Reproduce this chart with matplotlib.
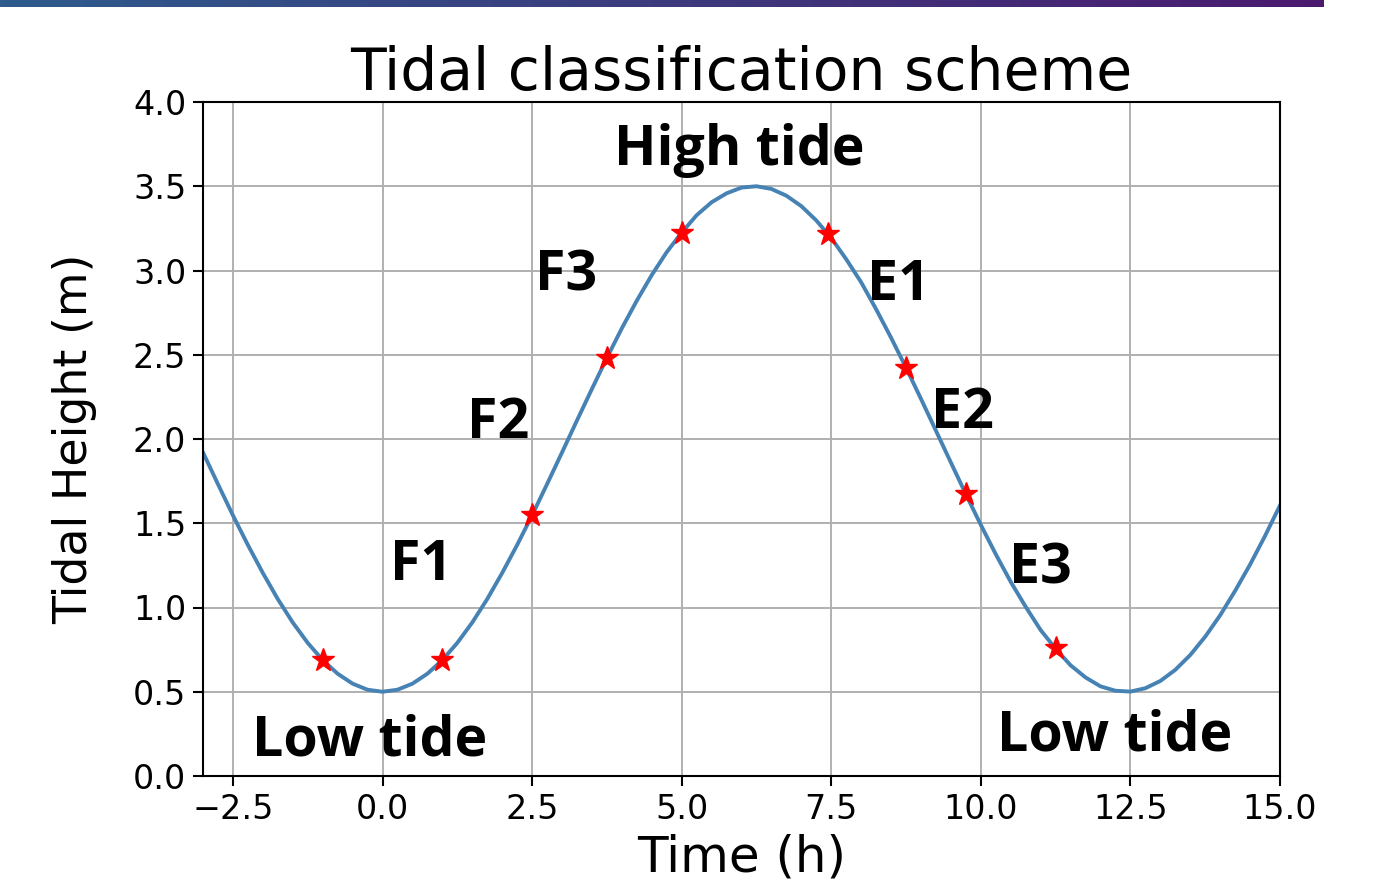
import matplotlib
matplotlib.use("Agg")
import matplotlib.pyplot as plt
import numpy as np

# Tidal curve (time in h, height in m), every 15 min
time_h = [-3.0, -2.75, -2.5, -2.25, -2.0, -1.75, -1.5, -1.25, -1.0, -0.75,
          -0.5, -0.25, 0.0, 0.25, 0.5, 0.75, 1.0, 1.25, 1.5, 1.75, 2.0,
          2.25, 2.5, 2.75, 3.0, 3.25, 3.5, 3.75, 4.0, 4.25, 4.5, 4.75, 5.0,
          5.25, 5.5, 5.75, 6.0, 6.25, 6.5, 6.75, 7.0, 7.25, 7.5, 7.75, 8.0,
          8.25, 8.5, 8.75, 9.0, 9.25, 9.5, 9.75, 10.0, 10.25, 10.5, 10.75,
          11.0, 11.25, 11.5, 11.75, 12.0, 12.25, 12.5, 12.75, 13.0, 13.25,
          13.5, 13.75, 14.0, 14.25, 14.5, 14.75, 15.0]
height_m = [1.920, 1.732, 1.547, 1.371, 1.205, 1.050, 0.911, 0.790, 0.688,
            0.607, 0.548, 0.512, 0.500, 0.512, 0.548, 0.607, 0.688, 0.790,
            0.911, 1.050, 1.205, 1.371, 1.547, 1.732, 1.920, 2.110, 2.297,
            2.481, 2.657, 2.821, 2.973, 3.109, 3.225, 3.328, 3.405, 3.458,
            3.492, 3.500, 3.484, 3.444, 3.382, 3.297, 3.193, 3.067, 2.930,
            2.770, 2.601, 2.423, 2.238, 2.049, 1.860, 1.672, 1.490, 1.316,
            1.152, 1.004, 0.866, 0.755, 0.657, 0.585, 0.532, 0.506, 0.501,
            0.521, 0.564, 0.630, 0.718, 0.827, 0.954, 1.099, 1.255, 1.425,
            1.606]

# Sampling points (red stars)
star_t = [-1.0, 1.0, 2.5, 3.75, 5.0, 7.45, 8.75, 9.75, 11.25]
star_h = [0.688, 0.688, 1.547, 2.481, 3.225, 3.216, 2.424, 1.672, 0.757]

# Phase labels
labels = ["High tide", "F3", "E1", "F2", "E2", "F1", "E3", "Low tide", "Low tide"]
label_t = [5.96, 3.07, 8.62, 1.93, 9.69, 0.64, 11.0, -0.21, 12.23]
label_h = [3.71, 2.97, 2.91, 2.09, 2.15, 1.25, 1.23, 0.21, 0.24]

W, H = 1382, 886
fig = plt.figure(figsize=(W / 100, H / 100), dpi=100)

# gradient bar along the top edge
bar = fig.add_axes([0, 1 - 7 / H, 1324 / W, 7 / H])
c0 = np.array([46, 91, 140]) / 255
c1 = np.array([75, 26, 111]) / 255
g = np.linspace(0, 1, 256)[None, :, None]
bar.imshow(c0 + (c1 - c0) * g, aspect="auto")
bar.axis("off")

ax = fig.add_axes([203 / W, 1 - 776 / H, (1280 - 203) / W, (776 - 102) / H])
ax.plot(time_h, height_m, color="#4682b4", lw=2.8, zorder=2,
        solid_joinstyle="round")
ax.plot(star_t, star_h, linestyle="none", marker="*", color="red",
        markersize=17, zorder=3)

for txt, x, y in zip(labels, label_t, label_h):
    ax.text(x, y, txt, ha="center", va="center", fontsize=40,
            fontweight="bold", family="Open Sans", zorder=4)

ax.set_xlim(-3, 15)
ax.set_ylim(0, 4)
ax.set_xticks([-2.5, 0.0, 2.5, 5.0, 7.5, 10.0, 12.5, 15.0])
ax.set_yticks([0.0, 0.5, 1.0, 1.5, 2.0, 2.5, 3.0, 3.5, 4.0])
ax.grid(True, color="#b0b0b0", lw=1.4)
ax.set_axisbelow(True)
for s in ax.spines.values():
    s.set_linewidth(1.5)
ax.tick_params(labelsize=24, length=7, width=1.5, pad=5)

ax.set_title("Tidal classification scheme", fontsize=42, pad=4)
ax.set_xlabel("Time (h)", fontsize=36, labelpad=6)
ax.set_ylabel("Tidal Height (m)", fontsize=33, labelpad=26)

fig.savefig("out.png", dpi=100)
